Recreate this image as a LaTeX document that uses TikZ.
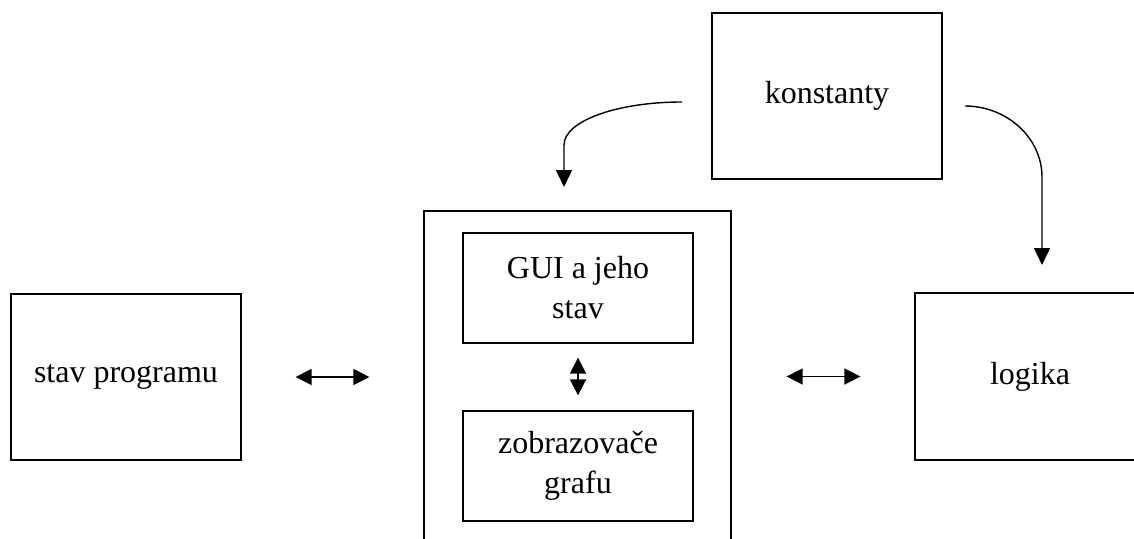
\documentclass[tikz,border=0pt]{standalone}
\usepackage{fontspec}
\setmainfont{Liberation Serif}
\usetikzlibrary{arrows.meta}
\begin{document}
\begin{tikzpicture}[x=1pt,y=-1pt,
  box/.style={draw, line width=1.3pt, rectangle, align=center, inner sep=0pt,
    font=\fontsize{32}{40}\selectfont},
  conn/.style={line width=1.4pt, -{Triangle[length=17pt,width=16pt]}},
  dconn/.style={line width=1.6pt, {Triangle[length=16pt,width=16pt]}-{Triangle[length=16pt,width=16pt]}}]
\clip (0,0) rectangle (1134,538);
\fill[white] (0,0) rectangle (1134,538);
\node[box, minimum width=230pt, minimum height=166pt] (stav) at (126,377) {stav programu};
\node[box, minimum width=307pt, minimum height=349pt] (outer) at (577.5,385.5) {};
\node[box, minimum width=230pt, minimum height=110pt] (gui) at (578,288) {GUI a jeho\\stav};
\node[box, minimum width=230pt, minimum height=110pt] (zob) at (578,466) {zobrazovače\\grafu};
\node[box, minimum width=230pt, minimum height=166pt] (konst) at (827,96) {konstanty};
\node[box, minimum width=230pt, minimum height=167pt] (logika) at (1030,376.5) {logika};
% double arrows
\draw[dconn, shorten <=54pt, shorten >=54pt] (stav.east) -- (stav.east -| outer.west);
\draw[dconn, shorten <=55pt, shorten >=54pt] (outer.east |- logika.west) -- (logika.west);
\draw[dconn, shorten <=14pt, shorten >=15pt] (gui.south) -- (zob.north);
% curved arrows
\coordinate (ls) at (682,102);
\coordinate (lb) at (564,145);
\coordinate (le) at (564,187);
\coordinate (rs) at (965,106);
\coordinate (rb) at (1042,177);
\coordinate (re) at (1042,265);
\draw[conn] (ls) .. controls (617,102) and (564,121) .. (lb) -- (le);
\draw[conn] (rs) .. controls (1007,106) and (1042,138) .. (rb) -- (re);
\end{tikzpicture}
\end{document}
